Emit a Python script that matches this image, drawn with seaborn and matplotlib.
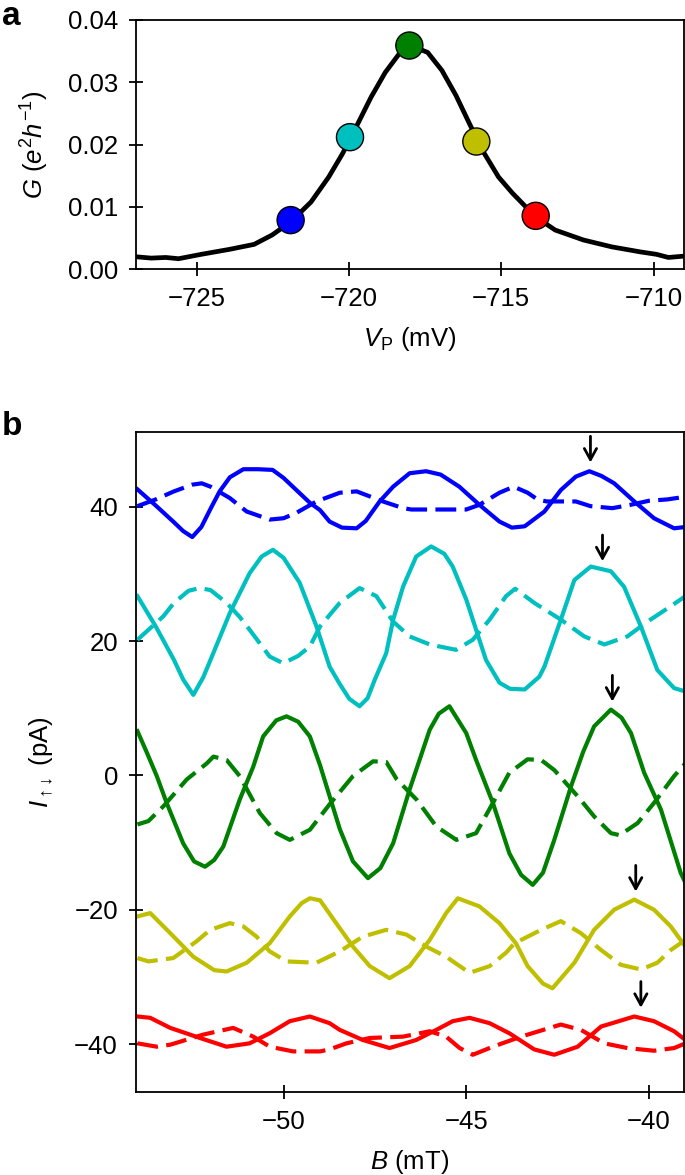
import numpy as np
import pandas as pd
import matplotlib
matplotlib.use("Agg")
import matplotlib.pyplot as plt
import seaborn as sns

plt.rcParams['font.family'] = ['Liberation Sans', 'DejaVu Sans']
plt.rcParams['mathtext.fontset'] = 'custom'
plt.rcParams['mathtext.rm'] = 'Liberation Sans'
plt.rcParams['mathtext.it'] = 'Liberation Sans:italic'
plt.rcParams['mathtext.bf'] = 'Liberation Sans:bold'
plt.rcParams['axes.unicode_minus'] = True
plt.rcParams['xtick.bottom'] = True
plt.rcParams['ytick.left'] = True
plt.rcParams['xtick.major.size'] = 10
plt.rcParams['ytick.major.size'] = 10
plt.rcParams['xtick.major.width'] = 1.3
plt.rcParams['ytick.major.width'] = 1.3
plt.rcParams['xtick.direction'] = 'inout'
plt.rcParams['ytick.direction'] = 'inout'
plt.rcParams['axes.linewidth'] = 1.3

# ---------------- Panel a data ----------------
vp = [-726.97, -726.5, -726.02, -725.6, -724.86, -723.93, -723.12, -722.53, -721.92,
      -721.25, -720.67, -720.21, -719.74, -719.28, -718.81, -718.35, -717.88,
      -717.42, -716.95, -716.49, -716.02, -715.56, -715.09, -714.63, -713.87,
      -713.23, -712.30, -711.37, -710.44, -709.9, -709.51, -709.04]
g = [0.0020, 0.0018, 0.0019, 0.0017, 0.0024, 0.0032, 0.0040, 0.0055, 0.0076,
     0.0108, 0.0148, 0.0186, 0.0231, 0.0276, 0.0316, 0.0346, 0.0357,
     0.0348, 0.0319, 0.0279, 0.0231, 0.0186, 0.0148, 0.0122, 0.0084,
     0.0063, 0.0047, 0.0036, 0.0028, 0.0024, 0.0019, 0.0021]

dot_names = ['blue', 'cyan', 'green', 'yellow', 'red']
dot_vp = [-721.92, -719.97, -718.02, -715.82, -713.87]
dot_g = [0.00789, 0.0212, 0.0359, 0.0205, 0.00858]
colors = {'blue': '#0000FF', 'cyan': '#00BFBF', 'green': '#008000',
          'yellow': '#BFBF00', 'red': '#FF0000'}

# ---------------- Panel b data ----------------
blue_solid_B = [-54.0, -53.5, -53.0, -52.75, -52.5, -52.25, -52.0, -51.75, -51.47, -51.1,
                -50.7, -50.3, -50.0, -49.65, -49.28, -49.0, -48.74, -48.4, -48.0, -47.75,
                -47.37, -47.0, -46.55, -46.1, -45.7, -45.19, -44.64, -44.09, -43.75, -43.4,
                -42.86, -42.41, -42.0, -41.63, -41.3, -40.95, -40.4, -39.86, -39.31, -39.0]
blue_solid_I = [42.6, 40.2, 37.7, 36.4, 35.5, 37.0, 39.7, 42.3, 44.4, 45.6,
                45.6, 45.5, 44.3, 42.5, 40.6, 39.5, 37.8, 36.9, 36.8, 37.9,
                40.8, 43.0, 45.0, 45.3, 44.8, 43.0, 40.3, 37.8, 36.9, 37.1,
                39.3, 42.5, 44.5, 45.3, 44.6, 43.5, 40.8, 38.3, 36.8, 37.0]

blue_dashed_B = [-54.0, -53.5, -53.0, -52.5, -52.24, -52.0, -51.47, -51.01, -50.38, -50.0,
                 -49.65, -49.1, -48.46, -48.0, -47.28, -46.73, -46.5, -45.0, -44.64, -44.09,
                 -43.7, -43.32, -43.05, -42.8, -42.0, -41.6, -41.0, -40.5, -40.0, -39.5, -39.0]
blue_dashed_I = [40.1, 41.1, 42.3, 43.3, 43.5, 43.0, 41.3, 39.3, 38.1, 38.3,
                 39.1, 40.8, 42.1, 42.3, 40.8, 39.8, 39.6, 39.6, 40.3, 42.1,
                 43.0, 42.1, 41.1, 40.8, 40.8, 40.1, 39.8, 40.3, 40.9, 41.1, 41.5]

cyan_solid_B = [-54.0, -53.5, -53.0, -52.75, -52.47, -52.2, -52.0, -51.47, -50.93, -50.6,
                -50.29, -50.0, -49.56, -49.1, -48.74, -48.46, -48.2, -47.92, -47.7, -47.5,
                -47.19, -47.0, -46.73, -46.37, -45.96, -45.6, -45.37, -45.0, -44.82, -44.46,
                -44.09, -43.8, -43.4, -43.0, -42.86, -42.41, -42.04, -41.59, -41.04, -40.68,
                -40.22, -39.77, -39.31, -39.0]
cyan_solid_I = [26.7, 22.2, 17.2, 14.3, 12.0, 14.6, 17.2, 24.2, 30.1, 32.6,
                33.6, 32.4, 28.7, 22.2, 16.2, 13.6, 11.4, 10.3, 11.5, 14.3,
                18.2, 23.2, 28.1, 32.6, 34.1, 33.0, 31.1, 26.2, 23.2, 17.2,
                13.8, 12.9, 12.8, 14.7, 16.2, 23.2, 29.1, 31.1, 30.4, 28.1,
                22.2, 15.7, 13.0, 12.5]

cyan_dashed_B = [-54.0, -53.29, -53.0, -52.6, -52.29, -52.0, -51.56, -51.2, -50.93, -50.38,
                 -50.01, -49.6, -49.28, -49.0, -48.46, -47.92, -47.46, -47.0, -46.55, -46.0,
                 -45.28, -44.82, -44.36, -43.91, -43.66, -43.14, -42.41, -41.77, -41.22, -40.59,
                 -40.04, -39.4, -39.0]
cyan_dashed_I = [20.2, 23.7, 25.7, 27.5, 27.9, 27.6, 25.7, 23.6, 21.7, 17.7,
                 16.7, 17.8, 19.2, 22.2, 25.7, 27.9, 26.7, 22.9, 20.7, 19.5,
                 18.7, 20.2, 23.2, 26.7, 27.8, 25.7, 23.2, 20.7, 19.5, 20.7,
                 22.9, 25.2, 26.7]

green_solid_B = [-54.0, -53.75, -53.47, -53.2, -52.75, -52.45, -52.15, -51.9, -51.65, -51.2,
                 -50.83, -50.56, -50.2, -49.92, -49.6, -49.28, -49.0, -48.83, -48.46, -48.1,
                 -47.69, -47.35, -47.0, -46.55, -46.0, -45.75, -45.46, -45.0, -44.73, -44.27,
                 -43.82, -43.5, -43.18, -42.9, -42.59, -42.13, -41.8, -41.5, -41.04, -40.75,
                 -40.49, -40.13, -39.67, -39.13, -39.0]
green_solid_I = [6.6, 3.5, -0.1, -4.1, -10.1, -12.8, -13.6, -12.6, -10.6, -3.6,
                 1.3, 5.8, 8.2, 8.8, 8.0, 5.8, 1.5, -1.5, -8.0, -12.8,
                 -15.3, -13.8, -10.1, -2.1, 6.8, 9.2, 10.3, 6.3, 2.3, -4.1,
                 -11.6, -14.8, -16.3, -14.5, -9.6, -1.6, 3.5, 7.3, 9.8, 8.6,
                 6.3, 0.4, -5.1, -14.5, -16.0]

green_dashed_B = [-54.0, -53.7, -53.29, -52.65, -52.1, -51.92, -51.56, -51.2, -50.65, -50.19,
                  -49.83, -49.28, -48.74, -48.1, -47.55, -47.19, -46.9, -46.36, -45.82, -45.27,
                  -44.73, -44.27, -43.82, -43.32, -42.95, -42.59, -41.95, -41.5, -41.04, -40.8,
                  -40.31, -39.86, -39.31, -39.0]
green_dashed_I = [-7.3, -6.8, -4.6, -0.6, 1.8, 2.8, 2.3, -0.1, -5.6, -8.6,
                  -9.6, -8.1, -4.3, -0.1, 2.1, 2.0, -0.6, -3.6, -7.6, -9.6,
                  -8.6, -4.1, 0.4, 2.4, 2.3, 0.8, -3.1, -6.1, -8.6, -8.9,
                  -7.1, -4.1, -0.1, 1.8]

yellow_solid_B = [-54.0, -53.65, -53.1, -52.47, -51.9, -51.56, -51.01, -50.38, -49.83, -49.5,
                  -49.28, -49.0, -48.56, -48.1, -47.64, -47.1, -46.55, -46.0, -45.55, -45.23,
                  -44.64, -44.09, -43.64, -43.32, -42.9, -42.64, -42.04, -41.5, -40.95, -40.4,
                  -39.86, -39.4, -39.0]
yellow_solid_I = [-21.0, -20.5, -23.5, -27.0, -29.0, -29.2, -27.9, -25.0, -21.0, -19.0,
                  -18.3, -18.6, -22.0, -25.5, -28.4, -30.2, -28.4, -24.5, -20.5, -18.3,
                  -19.5, -22.0, -25.0, -28.4, -31.0, -31.7, -27.9, -23.0, -20.0, -18.5,
                  -20.0, -22.5, -25.5]

yellow_dashed_B = [-54.0, -53.7, -53.02, -52.38, -52.01, -51.47, -51.1, -50.74, -50.38, -49.92,
                   -49.1, -48.46, -47.83, -47.19, -46.64, -46.09, -45.55, -44.91, -44.36, -43.91,
                   -43.68, -42.95, -42.41, -41.86, -41.31, -40.77, -40.22, -39.77, -39.4, -39.0]
yellow_dashed_I = [-27.2, -27.7, -27.2, -24.7, -23.0, -22.0, -22.5, -24.0, -26.2, -27.7,
                   -27.9, -26.2, -24.0, -23.0, -23.7, -25.5, -27.0, -29.4, -28.4, -26.4,
                   -25.0, -23.0, -21.7, -23.5, -26.0, -28.2, -28.9, -27.9, -26.0, -24.5]

red_solid_B = [-54.0, -53.65, -53.1, -52.29, -51.56, -50.93, -50.38, -49.83, -49.28, -48.74,
               -48.46, -47.83, -47.1, -46.37, -45.82, -45.37, -44.91, -44.36, -43.82, -43.14,
               -42.59, -41.95, -41.31, -40.4, -39.86, -39.31, -39.0]
red_solid_I = [-35.9, -36.1, -37.6, -39.1, -40.4, -39.9, -38.4, -36.6, -35.9, -36.9,
               -37.9, -39.4, -40.6, -39.4, -37.9, -36.6, -36.1, -36.9, -38.4, -40.8,
               -41.6, -40.4, -37.4, -35.9, -36.6, -38.1, -39.4]

red_dashed_B = [-54.0, -53.47, -53.1, -52.2, -51.38, -50.83, -50.38, -49.74, -49.0, -48.74,
                -48.28, -47.64, -46.73, -46.0, -45.55, -45.18, -44.82, -44.27, -43.5, -42.41,
                -41.86, -41.22, -40.59, -39.86, -39.31, -39.0]
red_dashed_I = [-39.9, -40.4, -40.1, -38.6, -37.6, -38.9, -40.4, -41.1, -41.1, -40.8,
                -39.9, -39.1, -38.9, -38.1, -38.9, -40.6, -41.6, -40.4, -38.9, -37.1,
                -37.9, -39.9, -40.6, -41.0, -40.6, -39.9]

series = [
    ('blue', blue_solid_B, blue_solid_I, blue_dashed_B, blue_dashed_I),
    ('cyan', cyan_solid_B, cyan_solid_I, cyan_dashed_B, cyan_dashed_I),
    ('green', green_solid_B, green_solid_I, green_dashed_B, green_dashed_I),
    ('yellow', yellow_solid_B, yellow_solid_I, yellow_dashed_B, yellow_dashed_I),
    ('red', red_solid_B, red_solid_I, red_dashed_B, red_dashed_I),
]

arrow_B = [-41.6, -41.27, -41.0, -40.36, -40.22]
arrow_tip = [46.6, 31.9, 11.0, -17.3, -34.6]

# ---------------- Figure ----------------
fig = plt.figure(figsize=(6.85, 11.75), dpi=100)
axa = fig.add_axes([0.1985, 0.7708, 0.800, 0.2122])
axb = fig.add_axes([0.1985, 0.0709, 0.800, 0.5612])

sns.lineplot(x=vp, y=g, ax=axa, color='k', lw=3.4, estimator=None, sort=False)
sns.scatterplot(x=dot_vp, y=dot_g, hue=dot_names, palette=colors, ax=axa, s=380,
                edgecolor='k', linewidth=1.0, legend=False, zorder=3)
axa.set_xlim(-727, -709)
axa.set_ylim(0, 0.04)
axa.set_xticks([-725, -720, -715, -710])
axa.set_yticks([0.0, 0.01, 0.02, 0.03, 0.04])
axa.set_yticklabels(['0.00', '0.01', '0.02', '0.03', '0.04'])
axa.set_xlabel(r'$V_\mathrm{P}$ (mV)', fontsize=18.5, labelpad=10)
axa.set_ylabel(r'$G$ ($e^2h^{-1}$)', fontsize=18.5, labelpad=12)

for name, sb, si, db, di in series:
    sns.lineplot(x=sb, y=si, ax=axb, color=colors[name], lw=3.0, estimator=None, sort=False)
    sns.lineplot(x=db, y=di, ax=axb, color=colors[name], lw=3.0, estimator=None, sort=False)
    axb.lines[-1].set_dashes([5.0, 2.0])

for xb, yt in zip(arrow_B, arrow_tip):
    axb.annotate('', xy=(xb, yt), xytext=(xb, yt + 3.9),
                 arrowprops=dict(arrowstyle='->,head_length=0.4,head_width=0.22',
                                 lw=2.0, color='k', mutation_scale=20,
                                 shrinkA=0, shrinkB=0))

axb.set_xlim(-54.04, -39.04)
axb.set_ylim(-47.1, 51.1)
axb.set_xticks([-50, -45, -40])
axb.set_yticks([-40, -20, 0, 20, 40])
axb.set_xlabel(r'$B$ (mT)', fontsize=18.5, labelpad=10)
axb.set_ylabel(r'$I_{\uparrow\!\downarrow}$ (pA)', fontsize=18.5, labelpad=14)

for ax in (axa, axb):
    ax.tick_params(axis='both', which='major', direction='inout', length=10, width=1.3,
                   labelsize=18.5, pad=8, color='k', labelcolor='k',
                   bottom=True, left=True, top=False, right=False)
    for sp in ax.spines.values():
        sp.set_visible(True)
        sp.set_linewidth(1.3)
        sp.set_color('k')
    ax.grid(False)

fig.text(0.003, 0.999, 'a', fontsize=24, fontweight='bold', va='top', ha='left')
fig.text(0.003, 0.650, 'b', fontsize=24, fontweight='bold', va='top', ha='left')

fig.savefig('out.png', dpi=100)
